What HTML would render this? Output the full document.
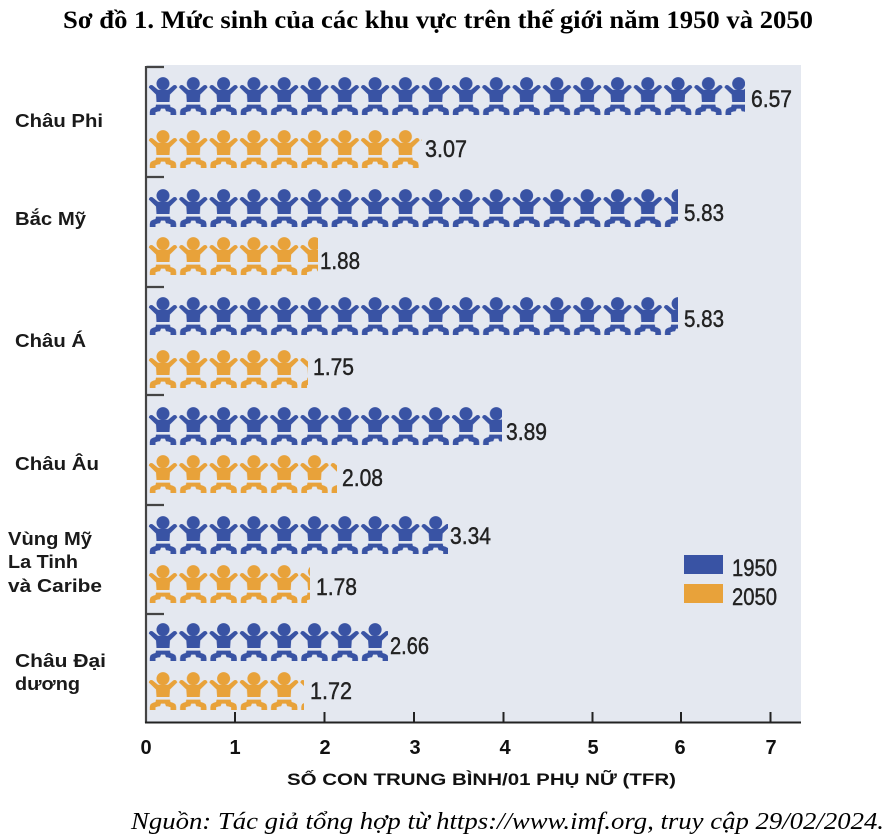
<!DOCTYPE html>
<html>
<head>
<meta charset="utf-8">
<style>
html,body{margin:0;padding:0;background:#fff;}
svg{display:block;}
.cat{font-family:"Liberation Sans",sans-serif;font-weight:bold;font-size:18.5px;fill:#1a1a1a;}
.val{font-family:"Liberation Sans Narrow","Liberation Sans",sans-serif;font-size:24px;fill:#222;stroke:#222;stroke-width:0.45;}
.tick{font-family:"Liberation Sans",sans-serif;font-weight:bold;font-size:20px;fill:#111;}
</style>
</head>
<body>
<svg width="894" height="838" viewBox="0 0 894 838" xmlns="http://www.w3.org/2000/svg">
<defs>
<g id="baby">
  <circle cx="15" cy="6.6" r="6.5"/>
  <path d="M0.8,10.5 Q1.5,7.2 4.5,8.2 L10,12.8 L20,12.8 L25.5,8.2 Q28.5,7.2 29.2,10.5 L22,17.5 L21.5,25 L8.5,25 L8,17.5 Z"/>
  <path d="M8,27.6 L22,27.6 L22.5,30 Q28.2,31 28.2,35 L28.2,38 L22.5,38 L22.5,35.2 Q20,34.2 18,34.2 L17,31.6 L13,31.6 L12,34.2 Q10,34.2 7.5,35.2 L7.5,38 L1.8,38 L1.8,35 Q1.8,31 7.5,30 Z"/>
</g>
<pattern id="pb" x="0" y="0" width="30.3" height="38" patternUnits="userSpaceOnUse">
  <use href="#baby" fill="#3953a4"/>
</pattern>
<pattern id="po" x="0" y="0" width="30.3" height="38" patternUnits="userSpaceOnUse">
  <use href="#baby" fill="#e8a23a"/>
</pattern>
</defs>

<!-- Title -->
<text x="63" y="28" font-family="'Liberation Serif',serif" font-weight="bold" font-size="25" fill="#000" textLength="750" lengthAdjust="spacingAndGlyphs">Sơ đồ 1. Mức sinh của các khu vực trên thế giới năm 1950 và 2050</text>

<!-- Plot background -->
<rect x="147" y="65" width="654" height="657" fill="#e4e8f0"/>

<!-- Left bracket line -->
<line x1="146" y1="66" x2="146" y2="723" stroke="#444" stroke-width="2.2"/>
<g stroke="#444" stroke-width="2.2">
<line x1="146" y1="67" x2="164" y2="67"/>
<line x1="146" y1="177" x2="164" y2="177"/>
<line x1="146" y1="287" x2="164" y2="287"/>
<line x1="146" y1="395" x2="164" y2="395"/>
<line x1="146" y1="505" x2="164" y2="505"/>
<line x1="146" y1="614" x2="164" y2="614"/>
</g>

<!-- X axis -->
<line x1="145" y1="722.5" x2="801" y2="722.5" stroke="#222" stroke-width="2"/>
<g stroke="#222" stroke-width="2">
<line x1="235" y1="712" x2="235" y2="722"/>
<line x1="324.5" y1="712" x2="324.5" y2="722"/>
<line x1="414" y1="712" x2="414" y2="722"/>
<line x1="503.5" y1="712" x2="503.5" y2="722"/>
<line x1="592.5" y1="712" x2="592.5" y2="722"/>
<line x1="681" y1="712" x2="681" y2="722"/>
<line x1="770.5" y1="712" x2="770.5" y2="722"/>
</g>
<g class="tick" text-anchor="middle">
<text x="146" y="754">0</text>
<text x="235" y="754">1</text>
<text x="325" y="754">2</text>
<text x="415" y="754">3</text>
<text x="505" y="754">4</text>
<text x="593" y="754">5</text>
<text x="680" y="754">6</text>
<text x="771" y="754">7</text>
</g>
<text x="287" y="785" font-family="'Liberation Sans',sans-serif" font-weight="bold" font-size="17" fill="#111" textLength="389" lengthAdjust="spacingAndGlyphs">SỐ CON TRUNG BÌNH/01 PHỤ NỮ (TFR)</text>

<!-- Category labels -->
<text class="cat" x="15" y="127" textLength="88" lengthAdjust="spacingAndGlyphs">Châu Phi</text>
<text class="cat" x="15" y="225" textLength="71" lengthAdjust="spacingAndGlyphs">Bắc Mỹ</text>
<text class="cat" x="15" y="347" textLength="71" lengthAdjust="spacingAndGlyphs">Châu Á</text>
<text class="cat" x="15" y="470" textLength="84" lengthAdjust="spacingAndGlyphs">Châu Âu</text>
<text class="cat" x="8" y="545" textLength="84" lengthAdjust="spacingAndGlyphs">Vùng Mỹ</text>
<text class="cat" x="8" y="568" textLength="70" lengthAdjust="spacingAndGlyphs">La Tinh</text>
<text class="cat" x="8" y="592" textLength="94" lengthAdjust="spacingAndGlyphs">và Caribe</text>
<text class="cat" x="15" y="667" textLength="91" lengthAdjust="spacingAndGlyphs">Châu Đại</text>
<text class="cat" x="15" y="690" textLength="65" lengthAdjust="spacingAndGlyphs">dương</text>

<!-- Icon rows -->
<g transform="translate(148,77)"><rect x="0" y="0" width="597" height="38" fill="url(#pb)"/></g>
<g transform="translate(148,130)"><rect x="0" y="0" width="274" height="38" fill="url(#po)"/></g>
<g transform="translate(148,189)"><rect x="0" y="0" width="530" height="38" fill="url(#pb)"/></g>
<g transform="translate(148,237)"><rect x="0" y="0" width="170" height="38" fill="url(#po)"/></g>
<g transform="translate(148,297)"><rect x="0" y="0" width="530" height="38" fill="url(#pb)"/></g>
<g transform="translate(148,350)"><rect x="0" y="0" width="160" height="38" fill="url(#po)"/></g>
<g transform="translate(148,407)"><rect x="0" y="0" width="354" height="38" fill="url(#pb)"/></g>
<g transform="translate(148,455)"><rect x="0" y="0" width="189" height="38" fill="url(#po)"/></g>
<g transform="translate(148,516)"><rect x="0" y="0" width="300" height="38" fill="url(#pb)"/></g>
<g transform="translate(148,565)"><rect x="0" y="0" width="162" height="38" fill="url(#po)"/></g>
<g transform="translate(148,623)"><rect x="0" y="0" width="240" height="38" fill="url(#pb)"/></g>
<g transform="translate(148,672)"><rect x="0" y="0" width="156" height="38" fill="url(#po)"/></g>

<!-- Value labels -->
<text class="val" x="751" y="107" textLength="41" lengthAdjust="spacingAndGlyphs">6.57</text>
<text class="val" x="425" y="157" textLength="42" lengthAdjust="spacingAndGlyphs">3.07</text>
<text class="val" x="684" y="221" textLength="40" lengthAdjust="spacingAndGlyphs">5.83</text>
<text class="val" x="320" y="269" textLength="40" lengthAdjust="spacingAndGlyphs">1.88</text>
<text class="val" x="684" y="327" textLength="40" lengthAdjust="spacingAndGlyphs">5.83</text>
<text class="val" x="313" y="375" textLength="41" lengthAdjust="spacingAndGlyphs">1.75</text>
<text class="val" x="506" y="440" textLength="41" lengthAdjust="spacingAndGlyphs">3.89</text>
<text class="val" x="342" y="486" textLength="41" lengthAdjust="spacingAndGlyphs">2.08</text>
<text class="val" x="450" y="544" textLength="41" lengthAdjust="spacingAndGlyphs">3.34</text>
<text class="val" x="316" y="595" textLength="41" lengthAdjust="spacingAndGlyphs">1.78</text>
<text class="val" x="390" y="654" textLength="39" lengthAdjust="spacingAndGlyphs">2.66</text>
<text class="val" x="310" y="699" textLength="42" lengthAdjust="spacingAndGlyphs">1.72</text>

<!-- Legend -->
<rect x="684" y="555" width="39" height="19" fill="#3953a4"/>
<rect x="684" y="584" width="39" height="19" fill="#e8a23a"/>
<text class="val" x="732" y="576" textLength="45" lengthAdjust="spacingAndGlyphs">1950</text>
<text class="val" x="732" y="605" textLength="45" lengthAdjust="spacingAndGlyphs">2050</text>

<!-- Source -->
<text x="131" y="829" font-family="'Liberation Serif',serif" font-style="italic" font-size="24" fill="#000" textLength="753" lengthAdjust="spacingAndGlyphs">Nguồn: Tác giả tổng hợp từ https://www.imf.org, truy cập 29/02/2024.</text>
</svg>
</body>
</html>
